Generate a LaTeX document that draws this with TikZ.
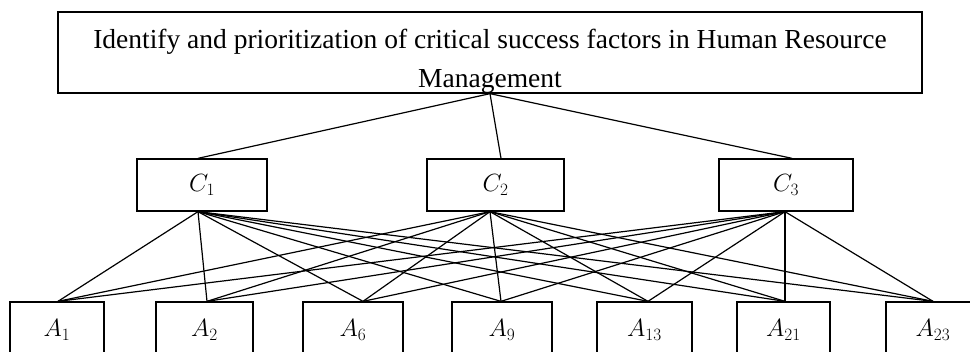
\documentclass[tikz,border=0pt]{standalone}
\usepackage{fontspec}
\setmainfont{Liberation Serif}
\usepackage{tikz}
\tikzset{box it/.style={draw, line width=1.3, inner sep=0}}
\tikzset{link it/.style={line width=1.2}}

\begin{document}
\begin{tikzpicture}[x=1pt, y=-1pt]
\useasboundingbox (0,0) rectangle (970,352);
\clip (0,0) rectangle (970,352);
\node[box it, minimum width=864pt, minimum height=81pt, align=center, text height=71pt, text depth=0pt, font=\fontsize{27.5}{39}\selectfont] (goal) at (490,52.5) {Identify and prioritization of critical success factors in Human Resource\\Management};
\node[box it, minimum width=130pt, minimum height=52pt, font=\fontsize{25}{25}\selectfont] (c1) at (202,185) {$C_1$};
\node[box it, minimum width=137pt, minimum height=52pt, font=\fontsize{25}{25}\selectfont] (c2) at (495.5,185) {$C_2$};
\node[box it, minimum width=134pt, minimum height=52pt, font=\fontsize{25}{25}\selectfont] (c3) at (786,185) {$C_3$};
\node[box it, minimum width=94pt, minimum height=56pt, font=\fontsize{25}{25}\selectfont] (a1) at (57,330) {$A_1$};
\node[box it, minimum width=97pt, minimum height=56pt, font=\fontsize{25}{25}\selectfont] (a2) at (204.5,330) {$A_2$};
\node[box it, minimum width=100pt, minimum height=56pt, font=\fontsize{25}{25}\selectfont] (a6) at (353,330) {$A_6$};
\node[box it, minimum width=100pt, minimum height=56pt, font=\fontsize{25}{25}\selectfont] (a9) at (502,330) {$A_9$};
\node[box it, minimum width=95pt, minimum height=56pt, font=\fontsize{25}{25}\selectfont] (a13) at (644.5,330) {$A_{13}$};
\node[box it, minimum width=93pt, minimum height=56pt, font=\fontsize{25}{25}\selectfont] (a21) at (783.5,330) {$A_{21}$};
\node[box it, minimum width=94pt, minimum height=56pt, font=\fontsize{25}{25}\selectfont] (a23) at (933,330) {$A_{23}$};
\draw[link it] (goal.south) -- ([xshift=-4pt]c1.north);
\draw[link it] (goal.south) -- ([xshift=5.5pt]c2.north);
\draw[link it] (goal.south) -- ([xshift=6pt]c3.north);
\foreach \c/\dc in {c1/-4, c2/-5.5, c3/-1}
  \foreach \a/\da in {a1/1, a2/2.5, a6/10, a9/-1, a13/3.5, a21/1.5, a23/0}
    \draw[link it] ([xshift=\dc pt]\c.south) -- ([xshift=\da pt]\a.north);
\end{tikzpicture}
\end{document}
